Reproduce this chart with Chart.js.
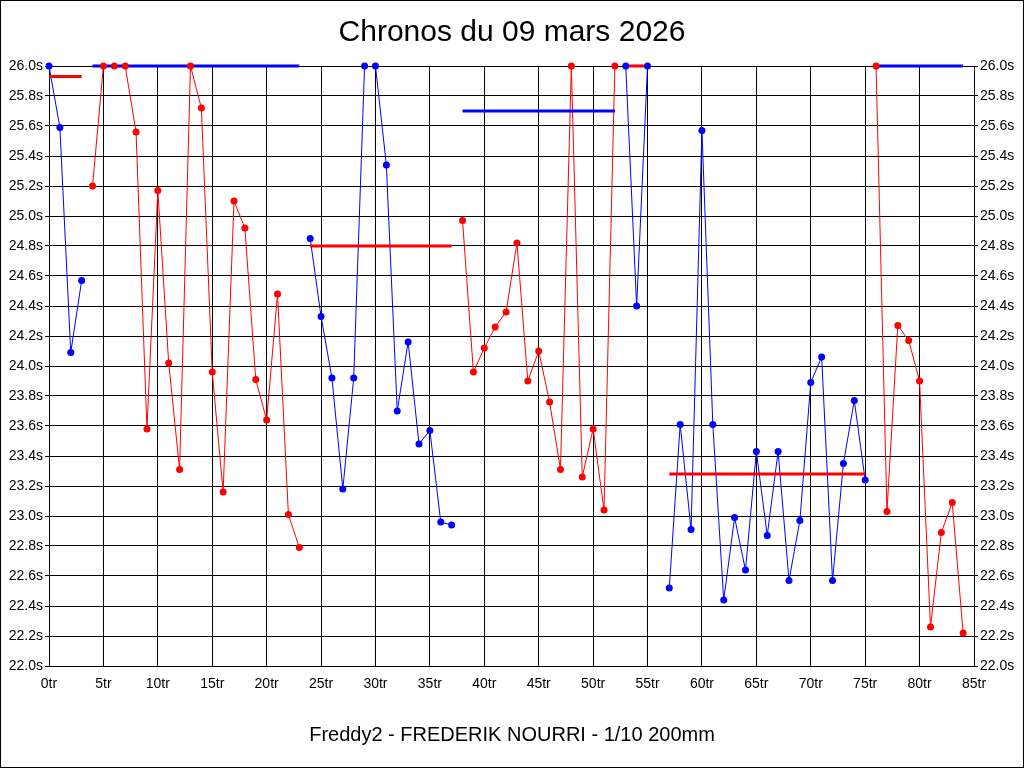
<!DOCTYPE html>
<html>
<head>
<meta charset="utf-8">
<title>Chronos du 09 mars 2026</title>
<script src="https://cdn.jsdelivr.net/npm/chart.js@4"></script>
<style>
    html, body { margin: 0; padding: 0; background: #fff; }
    #wrap { width: 1024px; height: 768px; }
</style>
</head>
<body>
<div id="wrap"><canvas id="chronoChart" width="1024" height="768"></canvas></div>
<script>
// Lap times per run (first lap number + values in seconds, 26.0 = off the scale)
const run1Start = 0;
const run1 = [26.0, 25.59, 24.09, 24.57];
const run2Start = 4;
const run2 = [25.2, 26.0, 26.0, 26.0, 25.56, 23.58, 25.17, 24.02, 23.31, 26.0, 25.72, 23.96, 23.16, 25.1, 24.92, 23.91, 23.64, 24.48, 23.01, 22.79];
const run3Start = 24;
const run3 = [24.85, 24.33, 23.92, 23.18, 23.92, 26.0, 26.0, 25.34, 23.70, 24.16, 23.48, 23.57, 22.96, 22.94];
const run4Start = 38;
const run4 = [24.97, 23.96, 24.12, 24.26, 24.36, 24.82, 23.90, 24.10, 23.76, 23.31, 26.0, 23.26, 23.58, 23.04, 26.0];
const run5Start = 53;
const run5 = [26.0, 24.40, 26.0];
const run6Start = 57;
const run6 = [22.52, 23.61, 22.91, 25.57, 23.61, 22.44, 22.99, 22.64, 23.43, 22.87, 23.43, 22.57, 22.97, 23.89, 24.06, 22.57, 23.35, 23.77, 23.24];
const run7Start = 76;
const run7 = [26.0, 23.03, 24.27, 24.17, 23.90, 22.26, 22.89, 23.09, 22.22];

const runColors = ['blue', 'red', 'blue', 'red', 'blue', 'blue', 'red'];

// average lines: first lap, last lap, value
const avgFrom = [0, 4, 24, 38, 53, 57, 76];
const avgTo = [3, 23, 37, 52, 55, 75, 84];
const avgValues = [25.93, 26.0, 24.80, 25.70, 26.0, 23.28, 26.0];
const avgColors = ['red', 'blue', 'red', 'blue', 'red', 'red', 'blue'];

const xTicks = [0, 85, 5];      // min, max, step (laps)
const yTicks = [22.0, 26.0, 0.2]; // min, max, step (seconds)

const colorMap = { red: '#ff0000', blue: '#0000ff' };

function toPoints(start, values) {
    return values.map((v, i) => ({ x: start + i, y: v }));
}

const runs = [
    [run1Start, run1], [run2Start, run2], [run3Start, run3], [run4Start, run4],
    [run5Start, run5], [run6Start, run6], [run7Start, run7]
];

const datasets = [];

// points on top
runs.forEach((r, i) => {
    datasets.push({
        data: toPoints(r[0], r[1]),
        showLine: false,
        pointRadius: 3.5,
        pointBorderWidth: 0,
        pointBackgroundColor: colorMap[runColors[i]],
        borderColor: colorMap[runColors[i]],
        clip: false,
        order: 1
    });
});

// average lines
avgValues.forEach((v, i) => {
    datasets.push({
        data: [{ x: avgFrom[i], y: v }, { x: avgTo[i], y: v }],
        borderColor: colorMap[avgColors[i]],
        borderWidth: 3,
        pointRadius: 0,
        clip: false,
        order: 2
    });
});

// connecting lines
runs.forEach((r, i) => {
    datasets.push({
        data: toPoints(r[0], r[1]),
        borderColor: colorMap[runColors[i]],
        borderWidth: 1,
        pointRadius: 0,
        tension: 0,
        order: 3
    });
});

// white background and frame around the whole picture
const framePlugin = {
    id: 'frame',
    beforeDraw(chart) {
        const ctx = chart.ctx;
        ctx.save();
        ctx.fillStyle = '#fff';
        ctx.fillRect(0, 0, chart.width, chart.height);
        ctx.restore();
    },
    afterDraw(chart) {
        const ctx = chart.ctx;
        ctx.save();
        ctx.strokeStyle = '#000';
        ctx.lineWidth = 1;
        ctx.strokeRect(0.5, 0.5, chart.width - 1, chart.height - 1);
        ctx.restore();
    }
};

const tickFont = { family: '"Liberation Sans", Arial, sans-serif', size: 14 };

const yScale = (pos) => ({
    type: 'linear',
    position: pos,
    min: yTicks[0],
    max: yTicks[1],
    border: { color: '#000', width: 1 },
    grid: {
        color: '#000',
        lineWidth: 1,
        drawOnChartArea: pos === 'left',
        drawTicks: true,
        tickLength: 4,
        tickColor: '#000'
    },
    ticks: {
        stepSize: yTicks[2],
        color: '#000',
        font: tickFont,
        padding: 2,
        callback: v => v.toFixed(1) + 's'
    },
    afterFit(scale) { scale.width = pos === 'left' ? 49 : 50; }
});

const ctx = document.getElementById('chronoChart').getContext('2d');
new Chart(ctx, {
    type: 'line',
    data: { datasets: datasets },
    plugins: [framePlugin],
    options: {
        responsive: false,
        animation: false,
        layout: { padding: 0 },
        scales: {
            x: {
                type: 'linear',
                min: xTicks[0],
                max: xTicks[1],
                border: { color: '#000', width: 1 },
                grid: { color: '#000', lineWidth: 1, drawTicks: false },
                ticks: {
                    stepSize: xTicks[2],
                    color: '#000',
                    font: tickFont,
                    padding: 10,
                    maxRotation: 0,
                    callback: v => v + 'tr'
                },
                afterFit(scale) { scale.height = 50; }
            },
            y: yScale('left'),
            y2: yScale('right')
        },
        plugins: {
            legend: { display: false },
            tooltip: { enabled: false },
            title: {
                display: true,
                text: 'Chronos du 09 mars 2026',
                color: '#000',
                font: { family: '"Liberation Sans", Arial, sans-serif', size: 30, weight: 'normal', lineHeight: 1.2 },
                padding: { top: 15, bottom: 15 }
            },
            subtitle: {
                display: true,
                position: 'bottom',
                text: 'Freddy2 - FREDERIK NOURRI - 1/10 200mm',
                color: '#000',
                font: { family: '"Liberation Sans", Arial, sans-serif', size: 20, weight: 'normal', lineHeight: 1.2 },
                padding: { top: 7, bottom: 21 }
            }
        }
    }
});
</script>
</body>
</html>
